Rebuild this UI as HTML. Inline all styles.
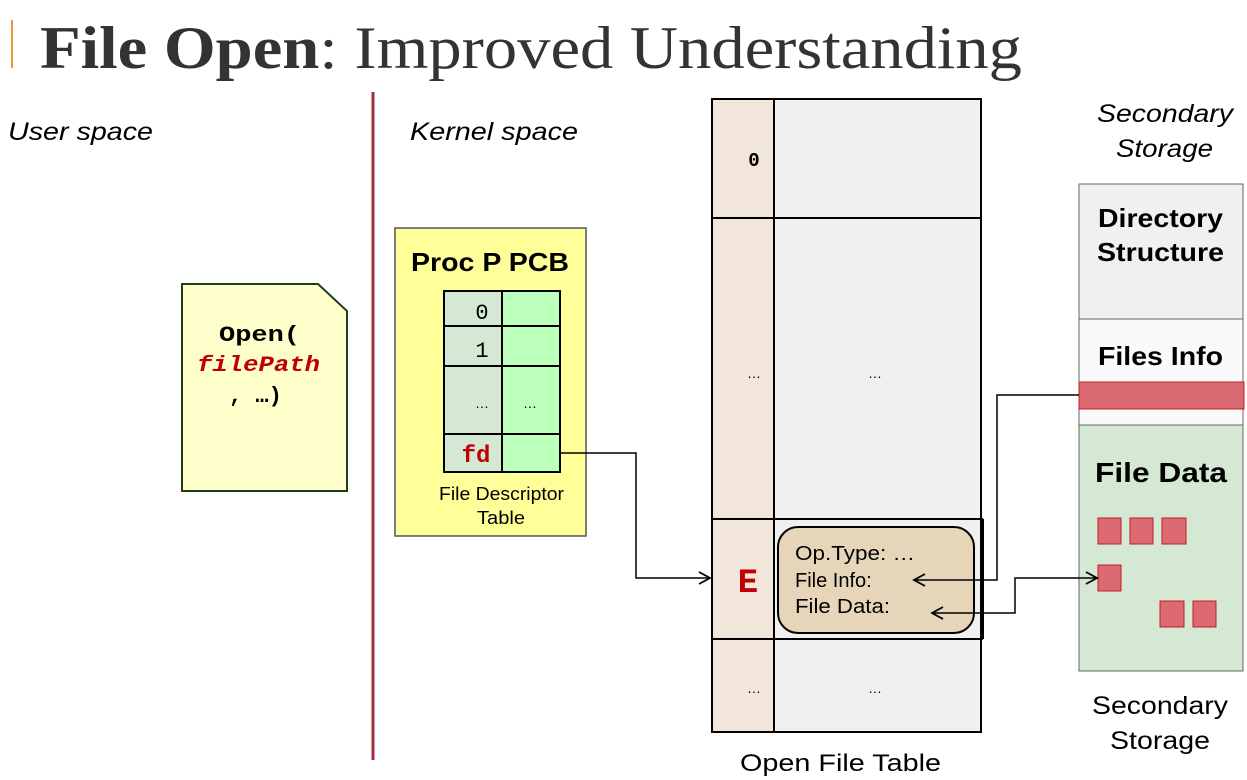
<!DOCTYPE html><html><head><style>body{margin:0;background:#fff}svg{display:block}.m{font-family:"Liberation Mono","Courier New",Courier,monospace}.s{font-family:"Liberation Sans",Arial,sans-serif}.t{font-family:"Liberation Serif","Times New Roman",serif}</style></head><body>
<svg width="1247" height="780" viewBox="0 0 1247 780" xmlns="http://www.w3.org/2000/svg" class="s">
<defs><marker id="a" markerWidth="14" markerHeight="14" refX="12" refY="7" orient="auto-start-reverse" markerUnits="userSpaceOnUse"><path d="M1,1 L12,7 L1,13" fill="none" stroke="#000" stroke-width="1.8"/></marker></defs>
<rect x="11" y="20" width="2" height="48" fill="#e89a3c"/>
<text x="40" y="68" class="t" font-size="60" fill="#333" textLength="982" lengthAdjust="spacingAndGlyphs"><tspan font-weight="bold">File Open</tspan>: Improved Understanding</text>
<line x1="373" y1="92" x2="373" y2="760" stroke="#a03040" stroke-width="3"/>
<text x="8" y="140" font-size="25" font-style="italic" textLength="145" lengthAdjust="spacingAndGlyphs">User space</text>
<text x="410" y="140" font-size="25" font-style="italic" textLength="168" lengthAdjust="spacingAndGlyphs">Kernel space</text>
<polygon points="182,284 318,284 347,311 347,491 182,491" fill="#ffffcc" stroke="#1a401a" stroke-width="2"/>
<g class="m" font-weight="bold" font-size="22">
<text x="219" y="341" textLength="81" lengthAdjust="spacingAndGlyphs">Open(</text><text x="197" y="371" fill="#c00000" font-style="italic" textLength="123" lengthAdjust="spacingAndGlyphs">filePath</text><text x="229" y="402">, …)</text></g>
<rect x="395" y="228" width="191" height="308" fill="#ffff99" stroke="#555" stroke-width="1.5"/>
<text x="411" y="271" font-size="26" font-weight="bold" textLength="158" lengthAdjust="spacingAndGlyphs">Proc P PCB</text>
<g stroke="#000" stroke-width="2">
<rect x="444" y="291" width="58" height="181" fill="#d5e8d4"/><rect x="502" y="291" width="58" height="181" fill="#bbffbb"/>
<line x1="444" y1="326" x2="560" y2="326"/><line x1="444" y1="366" x2="560" y2="366"/><line x1="444" y1="434" x2="560" y2="434"/></g>
<g class="m" font-size="22" text-anchor="middle"><text x="482" y="319">0</text><text x="482" y="357">1</text>
<text x="476" y="462" fill="#c00000" font-weight="bold" font-size="24">fd</text></g>
<text x="482" y="408" font-size="14" text-anchor="middle">…</text><text x="530" y="408" font-size="14" text-anchor="middle">…</text>
<text x="439" y="500" font-size="18" textLength="125" lengthAdjust="spacingAndGlyphs">File Descriptor</text><text x="477" y="524" font-size="18" textLength="48" lengthAdjust="spacingAndGlyphs">Table</text>
<g stroke="#000" stroke-width="2">
<rect x="712" y="99" width="62" height="633" fill="#f2e6da"/><rect x="774" y="99" width="207" height="633" fill="#f0f0f0"/>
<line x1="712" y1="218" x2="981" y2="218"/><line x1="712" y1="519" x2="983" y2="519"/><line x1="712" y1="639" x2="983" y2="639"/><line x1="983" y1="519" x2="983" y2="639"/>
<rect x="778" y="527" width="196" height="106" rx="20" fill="#e6d5b8"/></g>
<text x="754" y="166" font-size="19" class="m" font-weight="bold" text-anchor="middle">0</text>
<g font-size="14" text-anchor="middle"><text x="754" y="378">…</text><text x="875" y="378">…</text><text x="754" y="693">…</text><text x="875" y="693">…</text></g>
<text x="748" y="592" class="m" font-weight="bold" font-size="34" fill="#c00000" text-anchor="middle">E</text>
<g font-size="20"><text x="795" y="560" textLength="120" lengthAdjust="spacingAndGlyphs">Op.Type: …</text><text x="795" y="587">File Info:</text><text x="795" y="613" textLength="95" lengthAdjust="spacingAndGlyphs">File Data:</text></g>
<text x="740" y="771" font-size="24" textLength="201" lengthAdjust="spacingAndGlyphs">Open File Table</text>
<text x="1097" y="122" font-size="25" font-style="italic" textLength="136" lengthAdjust="spacingAndGlyphs">Secondary</text><text x="1116" y="157" font-size="25" font-style="italic" textLength="97" lengthAdjust="spacingAndGlyphs">Storage</text>
<rect x="1079" y="184" width="164" height="135" fill="#f0f0f0" stroke="#666"/>
<rect x="1079" y="319" width="164" height="106" fill="#fafafa" stroke="#666"/>
<rect x="1079" y="425" width="164" height="246" fill="#d5e8d4" stroke="#666"/>
<rect x="1079" y="382" width="165" height="27" fill="#dc6a73" stroke="#c02020"/>
<g font-weight="bold" font-size="26"><text x="1098" y="227" textLength="125" lengthAdjust="spacingAndGlyphs">Directory</text><text x="1097" y="261" textLength="127" lengthAdjust="spacingAndGlyphs">Structure</text><text x="1098" y="365" textLength="125" lengthAdjust="spacingAndGlyphs">Files Info</text><text x="1095" y="482" font-size="28" textLength="132" lengthAdjust="spacingAndGlyphs">File Data</text></g>
<g fill="#dc6a73" stroke="#c02020"><rect x="1098" y="518" width="23" height="26"/><rect x="1130" y="518" width="23" height="26"/><rect x="1162" y="518" width="24" height="26"/><rect x="1098" y="565" width="23" height="26"/><rect x="1160" y="601" width="24" height="26"/><rect x="1193" y="601" width="23" height="26"/></g>
<text x="1092" y="714" font-size="25" textLength="136" lengthAdjust="spacingAndGlyphs">Secondary</text><text x="1110" y="749" font-size="25" textLength="100" lengthAdjust="spacingAndGlyphs">Storage</text>
<g fill="none" stroke="#000" stroke-width="1.5">
<polyline points="560,453 636,453 636,578 710,578" marker-end="url(#a)"/>
<polyline points="1079,395 997,395 997,580 914,580" marker-end="url(#a)"/>
<polyline points="932,613 1015,613 1015,578 1097,578" marker-start="url(#a)" marker-end="url(#a)"/></g>
</svg></body></html>
